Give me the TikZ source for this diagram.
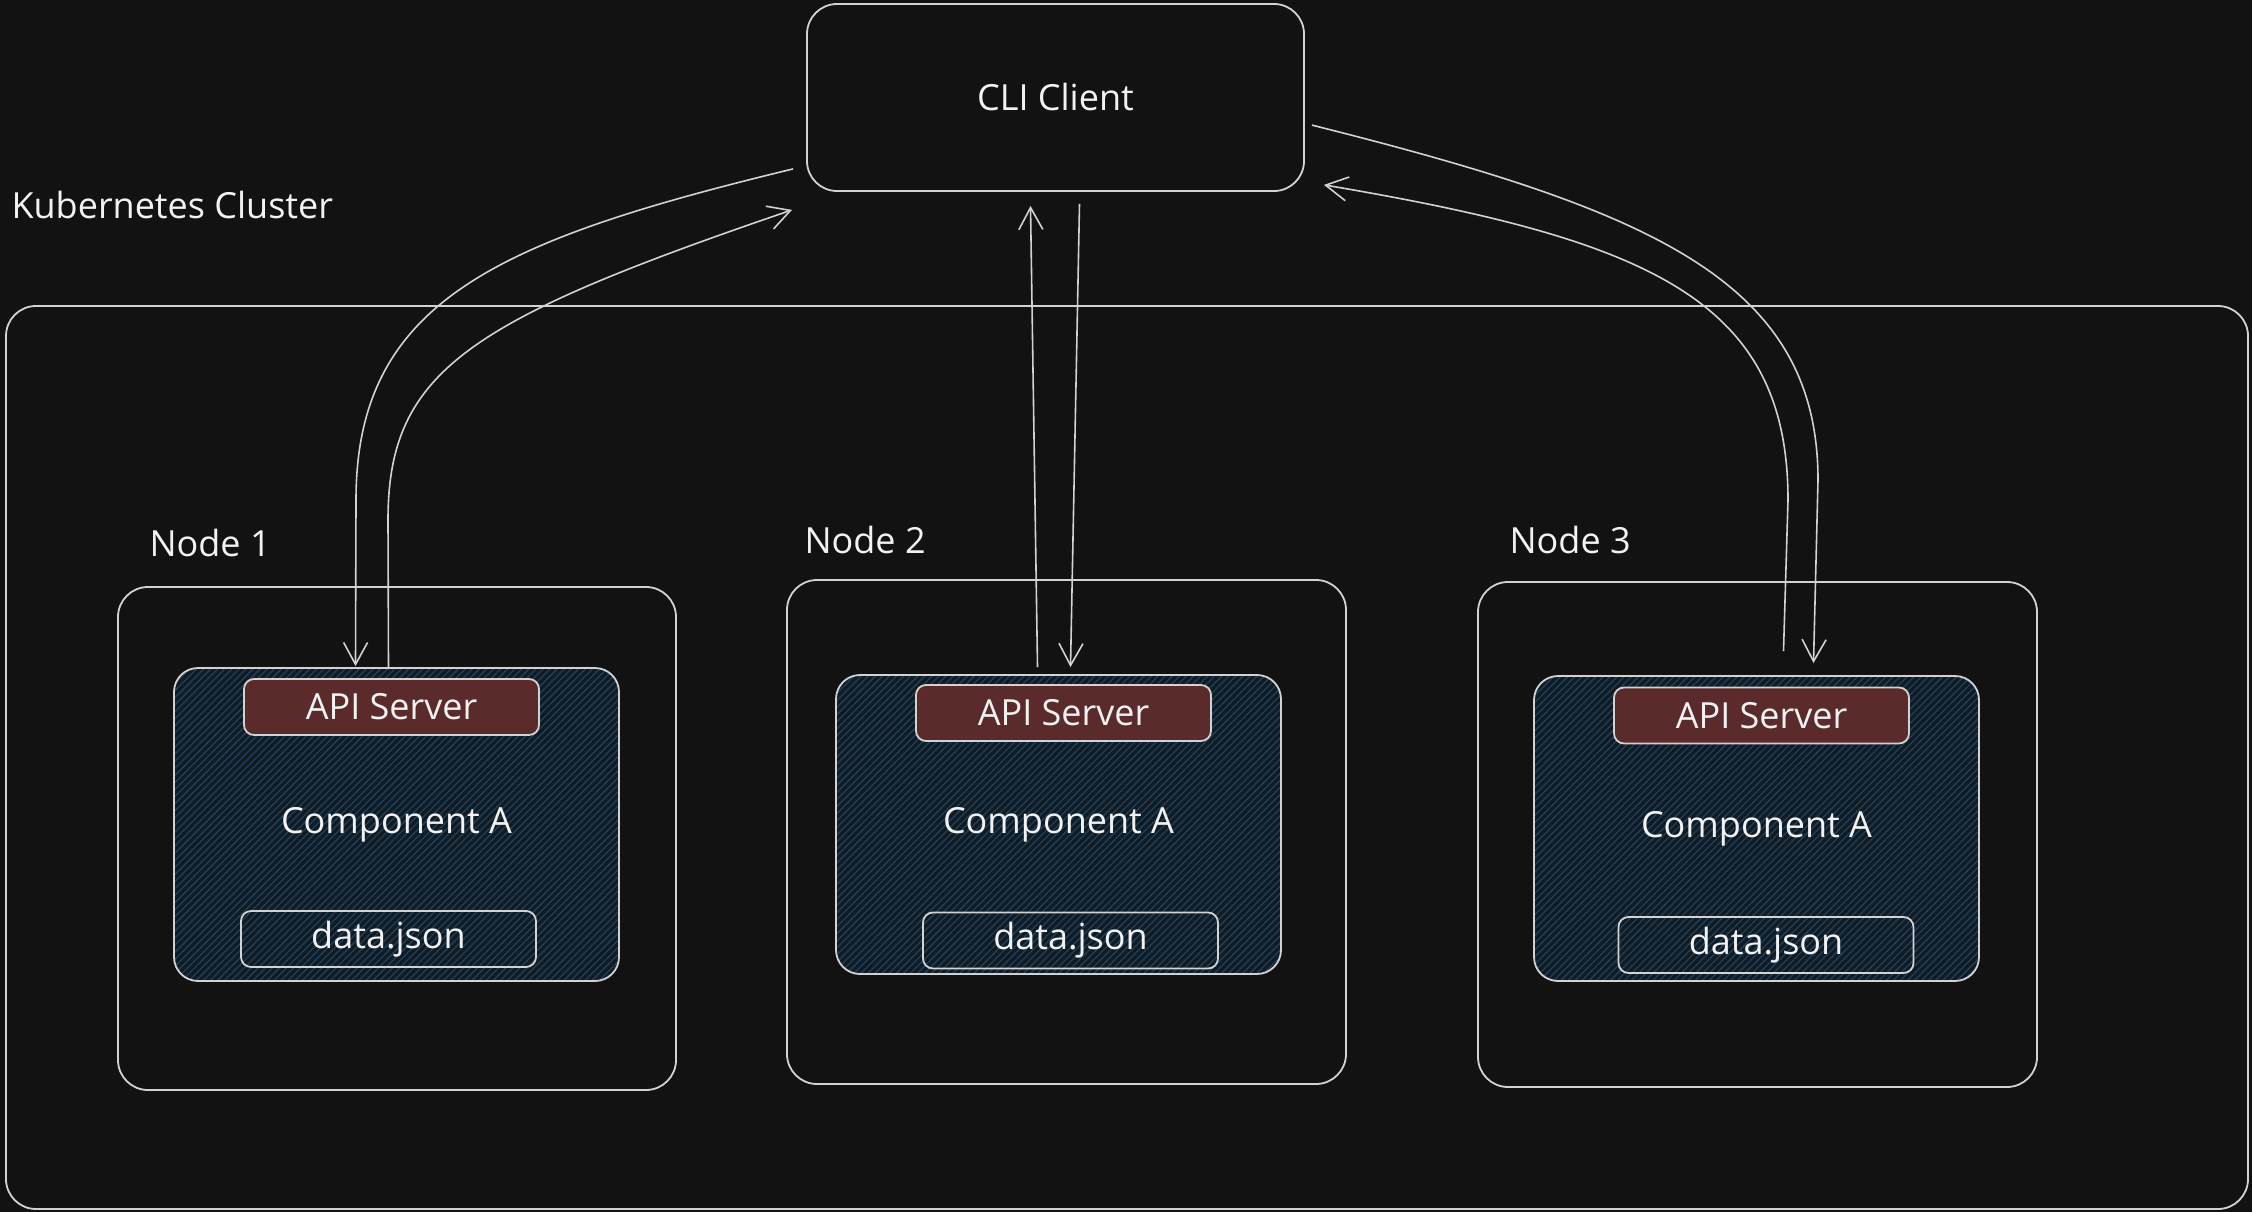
\documentclass[tikz,border=0pt]{standalone}
\usepackage{fontspec}
\setmainfont{Open Sans}
\usetikzlibrary{arrows.meta,calc,patterns.meta}
\definecolor{bgc}{HTML}{121212}
\definecolor{strokec}{HTML}{D2D2D2}
\definecolor{textc}{HTML}{F2F2F2}
\definecolor{apic}{HTML}{5B2B2C}
\definecolor{compc}{HTML}{121A22}
\definecolor{hatchc}{HTML}{1C425F}
\tikzset{
  lbl/.style={text=textc, font=\fontsize{36}{42}\selectfont},
  boxbase/.style={draw=strokec, line width=1.8pt, inner sep=0pt, lbl},
  bigbox/.style={boxbase, rectangle, rounded corners=30pt},
  compbox/.style={boxbase, rectangle, rounded corners=24pt,
     preaction={fill=compc},
     preaction={pattern={Lines[angle=45,distance=5pt,line width=1.3pt]}, pattern color=hatchc}},
  apibox/.style={boxbase, rectangle, rounded corners=10pt, fill=apic, minimum width=295pt, minimum height=56pt},
  databox/.style={boxbase, rectangle, rounded corners=10pt, minimum width=295pt, minimum height=56pt},
  conn/.style={draw=strokec, line width=1.6pt, -{Straight Barb[length=22pt,width=24pt,line width=1.6pt]}},
}
\begin{document}
\begin{tikzpicture}[x=1pt,y=-1pt]
\fill[bgc] (0,0) rectangle (2252,1212);
\useasboundingbox (0,0) rectangle (2252,1212);

% outer boxes
\node[bigbox, minimum width=2242pt, minimum height=903pt] (cluster) at (1127,757.5) {};
\node[lbl, anchor=west] (clusterlbl) at (8,205) {Kubernetes Cluster};

\node[bigbox, minimum width=497pt, minimum height=187pt] (cli) at (1055.5,97.5) {CLI Client};

\node[bigbox, minimum width=558pt, minimum height=503pt] (node1) at (397,838.5) {};
\node[bigbox, minimum width=559pt, minimum height=504pt] (node2) at (1066.5,832) {};
\node[bigbox, minimum width=559pt, minimum height=505pt] (node3) at (1757.5,834.5) {};
\node[lbl, anchor=west] (n1lbl) at (146,543) {Node 1};
\node[lbl, anchor=west] (n2lbl) at (801,540) {Node 2};
\node[lbl, anchor=west] (n3lbl) at (1506,540) {Node 3};

% components
\node[compbox, minimum width=445pt, minimum height=313pt] (comp1) at (396.5,824.5) {Component A};
\node[compbox, minimum width=445pt, minimum height=299pt] (comp2) at (1058.5,824.5) {Component A};
\node[compbox, minimum width=445pt, minimum height=305pt] (comp3) at (1756.5,828.5) {Component A};

\node[apibox] (api1) at (391.5,707) {API Server};
\node[apibox] (api2) at (1063.5,713) {API Server};
\node[apibox] (api3) at (1761.5,715.5) {API Server};

\node[databox] (data1) at (388.5,939) {data.json};
\node[databox] (data2) at (1070.5,940.5) {data.json};
\node[databox] (data3) at (1766,945) {data.json};

% connectors
\draw[conn] ($(cli.south west)+(-13,-23)$) .. controls (500,240) and (356,300) .. (356,500) -- ($(comp1.north)+(-41,-1)$);
\draw[conn] ($(comp1.north)+(-8,2)$) -- (388,520) .. controls (388,370) and (470,320) .. ($(cli.south west)+(-14,18)$);

\draw[conn] ($(comp2.north)+(-21,-7)$) -- ($(cli.south)+(-25,14)$);
\draw[conn] ($(cli.south)+(24,12)$) -- ($(comp2.north)+(12,-7)$);

\draw[conn] ($(cli.north east)+(7,122)$) .. controls (1650,210) and (1818,280) .. (1818,480) -- ($(comp3.north)+(57,-12)$);
\draw[conn] ($(comp3.north)+(27,-24)$) -- (1788,500) .. controls (1788,300) and (1650,240) .. ($(cli.south east)+(19,-7)$);
\end{tikzpicture}
\end{document}
